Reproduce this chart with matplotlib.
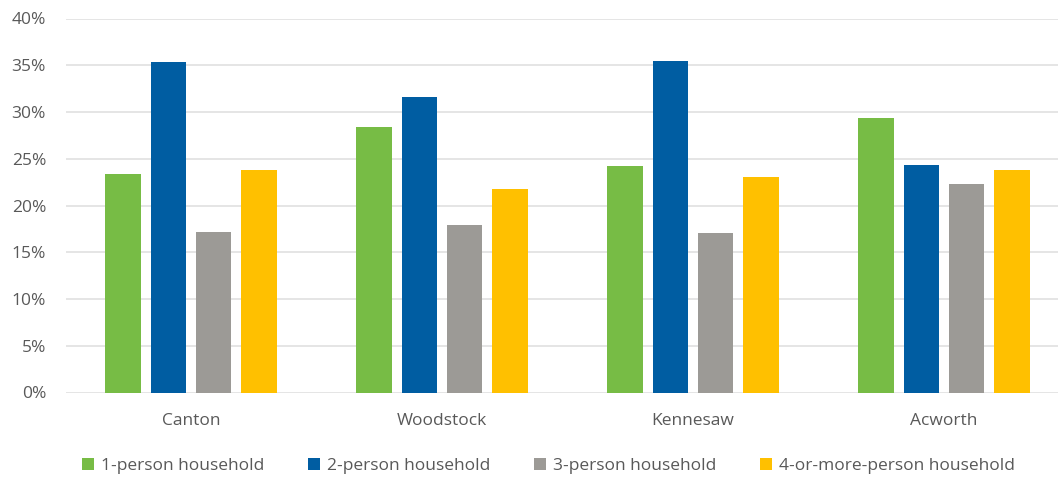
import matplotlib
matplotlib.use("Agg")
import matplotlib.pyplot as plt
import numpy as np
from matplotlib.ticker import FuncFormatter, MultipleLocator
from matplotlib.patches import Patch

cities = ["Canton", "Woodstock", "Kennesaw", "Acworth"]
series_names = ["1-person household", "2-person household",
                "3-person household", "4-or-more-person household"]
one_person = [23.4, 28.4, 24.2, 29.4]
two_person = [35.35, 31.6, 35.5, 24.3]
three_person = [17.2, 17.9, 17.05, 22.3]
four_plus = [23.8, 21.8, 23.0, 23.8]
colors = ["#77BC45", "#005DA2", "#9C9A96", "#FFC000"]

series = [one_person, two_person, three_person, four_plus]

plt.rcParams['font.family'] = ['Open Sans', 'DejaVu Sans']
text_color = "#595959"

W, H = 1058, 479
fig = plt.figure(figsize=(W / 100, H / 100), dpi=100)
left, right = 65.5, 1069.5
bottom, top = 392.5, 18.5
ax = fig.add_axes([left / W, 1 - bottom / H, (right - left) / W, (bottom - top) / H])

x = np.arange(len(cities))
bar_w = 35.5 / 251
pitch = 45.3 / 251
for i, (vals, col) in enumerate(zip(series, colors)):
    offs = (i - 1.5) * pitch
    ax.bar(x + offs, vals, width=bar_w, color=col, zorder=3, linewidth=0)

ax.set_xlim(-0.5, len(cities) - 0.5)
ax.set_ylim(0, 40)
ax.yaxis.set_major_locator(MultipleLocator(5))
ax.yaxis.set_major_formatter(FuncFormatter(lambda v, p: f"{v:.0f}%"))
ax.grid(axis='y', color="#E3E3E3", linewidth=1.3, zorder=0)
for s in ax.spines.values():
    s.set_visible(False)
ax.tick_params(axis='both', length=0, colors=text_color, labelsize=12.5)
ax.tick_params(axis='y', pad=14)
ax.tick_params(axis='x', pad=15)
ax.set_xticks(x)
ax.set_xticklabels(cities)

handles = [Patch(facecolor=c, edgecolor='none') for c in colors]
fig.legend(handles, series_names, loc='center', bbox_to_anchor=(548.5 / W, 1 - 466 / H),
           ncol=4, frameon=False, fontsize=12.5, labelcolor=text_color,
           handlelength=0.7, handleheight=0.7, handletextpad=0.4, columnspacing=2.5)

fig.savefig("out.png", dpi=100)
